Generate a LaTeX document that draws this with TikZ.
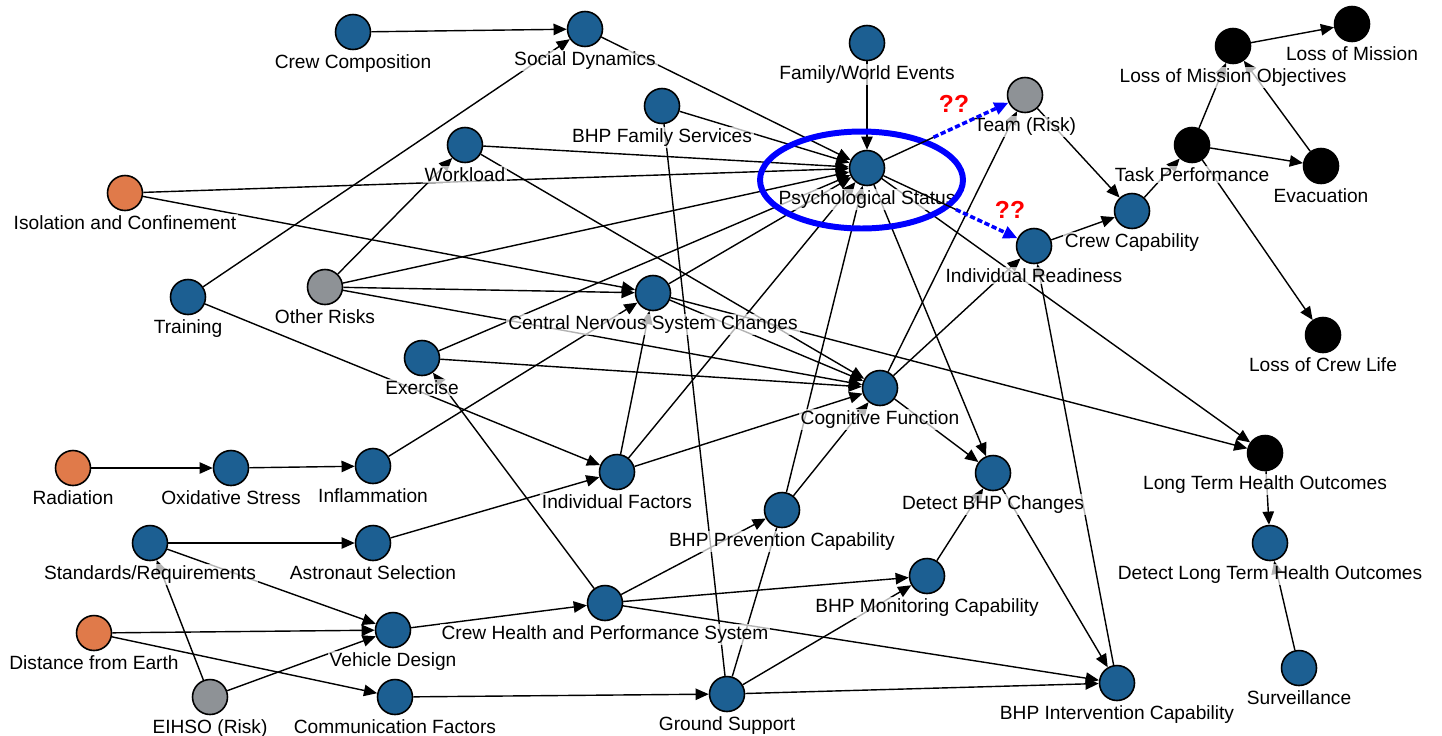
\documentclass[tikz,border=0pt]{standalone}
\usepackage{fontspec}
\setmainfont{Liberation Sans}
\usepackage{tikz}
\usetikzlibrary{arrows.meta, positioning, shapes.geometric}

\definecolor{riskblue}{RGB}{28,95,146}
\definecolor{riskorange}{RGB}{224,122,74}
\definecolor{riskgray}{RGB}{142,146,150}

\begin{document}
\begin{tikzpicture}[x=0.02cm, y=-0.02cm, font=\fontsize{10.9}{12}\selectfont]
        % Setup the styles for the states
        \tikzset{node style/.style={circle, draw,
                                    line width=0.9pt,
                                    minimum size=0.7cm,
                                    inner sep=0pt,
                                    fill=riskblue},
                 cause/.style={node style, fill=riskorange},
                 risk/.style={node style, fill=riskgray},
                 outcome/.style={node style, fill=black},
                 tag/.style={fill=white, fill opacity=0.7, text opacity=1, inner sep=1pt},
                 link/.style={line width=0.8pt, -{Triangle[length=7.5pt,width=6.5pt]}},
                 guess/.style={blue, line width=2pt, dash pattern=on 3pt off 1.5pt,
                               -{Triangle[length=8pt,width=7pt]}},
                 qmark/.style={red, font=\fontsize{14}{14}\selectfont\bfseries}}

        \useasboundingbox (0,0) rectangle (1442,735);

        % Draw the states
        \node[node style] at (353, 32) (crew) {};
        \node[node style] at (585, 29) (social) {};
        \node[node style] at (867, 43) (family) {};
        \node[node style] at (662, 106) (famserv) {};
        \node[node style] at (465, 145) (workload) {};
        \node[node style] at (867, 168) (psych) {};
        \node[risk] at (1025, 95) (team) {};
        \node[outcome] at (1233, 46) (lossobj) {};
        \node[outcome] at (1352, 24) (lossmis) {};
        \node[outcome] at (1192, 145) (task) {};
        \node[outcome] at (1321, 166) (evac) {};
        \node[node style] at (1132, 211) (crewcap) {};
        \node[node style] at (1034, 246) (ready) {};
        \node[cause] at (125, 193) (isolation) {};
        \node[node style] at (188, 297) (training) {};
        \node[risk] at (325, 287) (other) {};
        \node[node style] at (653, 293) (cns) {};
        \node[node style] at (422, 358) (exercise) {};
        \node[node style] at (880, 388) (cognitive) {};
        \node[outcome] at (1323, 335) (crewlife) {};
        \node[outcome] at (1265, 453) (longterm) {};
        \node[cause] at (73, 468) (radiation) {};
        \node[node style] at (231, 468) (oxidative) {};
        \node[node style] at (373, 466) (inflam) {};
        \node[node style] at (617, 472) (indfact) {};
        \node[node style] at (782, 510) (prevent) {};
        \node[node style] at (993, 473) (detect) {};
        \node[node style] at (1270, 543) (detectlt) {};
        \node[node style] at (150, 543) (standards) {};
        \node[node style] at (373, 543) (selection) {};
        \node[cause] at (94, 633) (distance) {};
        \node[node style] at (393, 630) (vehicle) {};
        \node[node style] at (605, 603) (chps) {};
        \node[node style] at (927, 576) (monitor) {};
        \node[risk] at (210, 697) (eihso) {};
        \node[node style] at (395, 697) (comm) {};
        \node[node style] at (727, 694) (ground) {};
        \node[node style] at (1117, 683) (intervene) {};
        \node[node style] at (1299, 668) (surveil) {};

        % Connect the states with arrows
        \draw[link]
              (crew)       edge          (social)
              (training)   edge          (social)
              (social)     edge          (psych)
              (family)     edge          (psych)
              (famserv)    edge          (psych)
              (workload)   edge          (psych)
              (isolation)  edge          (psych)
              (isolation)  edge          (cns)
              (workload)   edge          (cognitive)
              (other)      edge          (workload)
              (other)      edge          (psych)
              (other)      edge          (cns)
              (other)      edge          (cognitive)
              (exercise)   edge          (psych)
              (exercise)   edge          (cognitive)
              (training)   edge          (indfact)
              (indfact)    edge          (cns)
              (indfact)    edge          (psych)
              (indfact)    edge          (cognitive)
              (cns)        edge          (psych)
              (cns)        edge          (cognitive)
              (cns)        edge          (longterm)
              (inflam)     edge          (cns)
              (radiation)  edge          (oxidative)
              (oxidative)  edge          (inflam)
              (selection)  edge          (indfact)
              (standards)  edge          (selection)
              (standards)  edge          (vehicle)
              (distance)   edge          (vehicle)
              (distance)   edge          (comm)
              (eihso)      edge          (vehicle)
              (eihso)      edge          (standards)
              (vehicle)    edge          (chps)
              (chps)       edge          (exercise)
              (chps)       edge          (prevent)
              (chps)       edge          (monitor)
              (chps)       edge          (intervene)
              (comm)       edge          (ground)
              (ground)     edge          (monitor)
              (ground)     edge          (intervene)
              (ground)     edge[-]       (prevent)
              (famserv)    edge[-]       (ground)
              (prevent)    edge          (psych)
              (prevent)    edge          (cognitive)
              (monitor)    edge          (detect)
              (psych)      edge          (detect)
              (cognitive)  edge          (detect)
              (detect)     edge          (intervene)
              (intervene)  edge          (ready)
              (cognitive)  edge          (ready)
              (cognitive)  edge          (team)
              (psych)      edge          (longterm)
              (team)       edge          (crewcap)
              (ready)      edge          (crewcap)
              (crewcap)    edge          (task)
              (task)       edge          (lossobj)
              (task)       edge          (evac)
              (task)       edge          (crewlife)
              (evac)       edge          (lossobj)
              (lossobj)    edge          (lossmis)
              (longterm)   edge          (detectlt)
              (surveil)    edge          (detectlt);

        % Labels under the states
        \node[tag, below=1.2pt of crew] (crew-t) {Crew Composition};
        \node[tag, below=1.2pt of social] (social-t) {Social Dynamics};
        \node[tag, below=1.2pt of family] (family-t) {Family/World Events};
        \node[tag, below=1.2pt of famserv] (famserv-t) {BHP Family Services};
        \node[tag, below=1.2pt of workload] (workload-t) {Workload};
        \node[tag, below=1.2pt of psych] (psych-t) {Psychological Status};
        \node[tag, below=1.2pt of team] (team-t) {Team (Risk)};
        \node[tag, below=1.2pt of lossobj] (lossobj-t) {Loss of Mission Objectives};
        \node[tag, below=1.2pt of lossmis] (lossmis-t) {Loss of Mission};
        \node[tag, below=1.2pt of task] (task-t) {Task Performance};
        \node[tag, below=1.2pt of evac] (evac-t) {Evacuation};
        \node[tag, below=1.2pt of crewcap] (crewcap-t) {Crew Capability};
        \node[tag, below=1.2pt of ready] (ready-t) {Individual Readiness};
        \node[tag, below=1.2pt of isolation] (isolation-t) {Isolation and Confinement};
        \node[tag, below=1.2pt of training] (training-t) {Training};
        \node[tag, below=1.2pt of other] (other-t) {Other Risks};
        \node[tag, below=1.2pt of cns] (cns-t) {Central Nervous System Changes};
        \node[tag, below=1.2pt of exercise] (exercise-t) {Exercise};
        \node[tag, below=1.2pt of cognitive] (cognitive-t) {Cognitive Function};
        \node[tag, below=1.2pt of crewlife] (crewlife-t) {Loss of Crew Life};
        \node[tag, below=1.2pt of longterm] (longterm-t) {Long Term Health Outcomes};
        \node[tag, below=1.2pt of radiation] (radiation-t) {Radiation};
        \node[tag, below=1.2pt of oxidative] (oxidative-t) {Oxidative Stress};
        \node[tag, below=1.2pt of inflam] (inflam-t) {Inflammation};
        \node[tag, below=1.2pt of indfact] (indfact-t) {Individual Factors};
        \node[tag, below=1.2pt of prevent] (prevent-t) {BHP Prevention Capability};
        \node[tag, below=1.2pt of detect] (detect-t) {Detect BHP Changes};
        \node[tag, below=1.2pt of detectlt] (detectlt-t) {Detect Long Term Health Outcomes};
        \node[tag, below=1.2pt of standards] (standards-t) {Standards/Requirements};
        \node[tag, below=1.2pt of selection] (selection-t) {Astronaut Selection};
        \node[tag, below=1.2pt of distance] (distance-t) {Distance from Earth};
        \node[tag, below=1.2pt of vehicle] (vehicle-t) {Vehicle Design};
        \node[tag, below=1.2pt of chps] (chps-t) {Crew Health and Performance System};
        \node[tag, below=1.2pt of monitor] (monitor-t) {BHP Monitoring Capability};
        \node[tag, below=1.2pt of eihso] (eihso-t) {EIHSO (Risk)};
        \node[tag, below=1.2pt of comm] (comm-t) {Communication Factors};
        \node[tag, below=1.2pt of ground] (ground-t) {Ground Support};
        \node[tag, below=1.2pt of intervene] (intervene-t) {BHP Intervention Capability};
        \node[tag, below=1.2pt of surveil] (surveil-t) {Surveillance};

        % Highlight ring and the open questions
        \node[draw=blue, line width=3.4pt, ellipse, minimum width=4.06cm,
              minimum height=1.94cm, inner sep=0pt] at (861.5, 180) (ring) {};
        \path (psych) -- (team) coordinate[pos=0.4] (ring-team);
        \path (psych) -- (ready) coordinate[pos=0.54] (ring-ready);
        \draw[line width=0.8pt] (psych) -- (ring-team);
        \draw[line width=0.8pt] (psych) -- (ring-ready);
        \draw[guess] (ring-team) -- (team);
        \draw[guess] (ring-ready) -- (ready);
        \node[qmark] at (954, 104) (q-team) {??};
        \node[qmark] at (1010, 210) (q-ready) {??};
\end{tikzpicture}
\end{document}
